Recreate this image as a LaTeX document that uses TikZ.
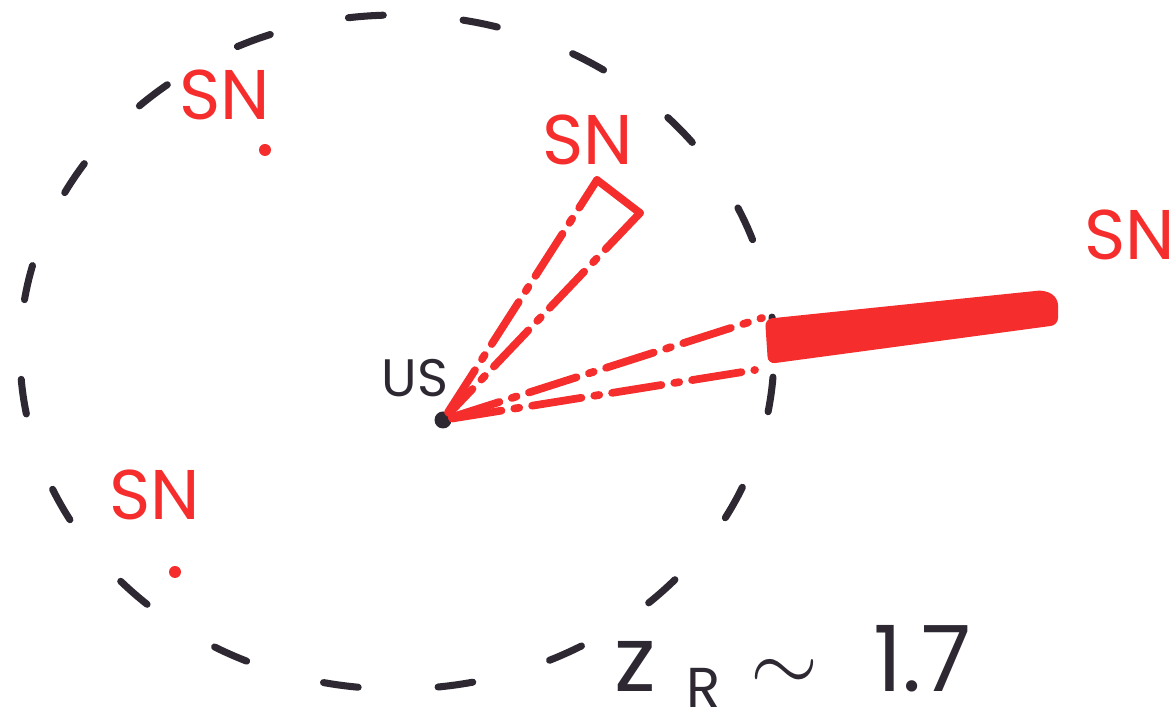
\documentclass[tikz,border=0pt]{standalone}
\usepackage{fontspec}
\setmainfont{Poppins}
\usepackage{tikz}
\usetikzlibrary{positioning, calc}
\definecolor{inkRed}{RGB}{245, 45, 45}
\definecolor{inkDark}{RGB}{45, 40, 50}

\begin{document}
\begin{tikzpicture}[line cap=round,
    ring/.style={draw=inkDark, line width=2pt, dash pattern=on 0.35cm off 0.8cm},
    ray/.style={draw=inkRed, line width=2.2pt, dash pattern=on 0.5cm off 0.13cm on 0.05cm off 0.13cm},
    snlabel/.style={text=inkRed, font=\fontsize{20}{20}\selectfont, inner sep=0pt},
    spot/.style 2 args={circle, fill=#1, inner sep=0pt, minimum size=#2}]
    \useasboundingbox (0,0) rectangle (11.73,7.23);
    % Horizon
    \draw[ring] (3.97,3.71) ellipse [x radius=3.77, y radius=3.37];
    % Observer
    \node[spot={inkDark}{0.17cm}] (us) at (4.43,3.03) {};
    \node[text=inkDark, font=\fontsize{15}{15}\selectfont, inner sep=0pt] (uslbl) at (4.15,3.45) {US};
    % Supernovae
    \node[snlabel] (sn1) at (2.25,6.28) {SN};
    \node[spot={inkRed}{0.12cm}] (sn1dot) at (2.65,5.73) {};
    \node[snlabel] (sn2) at (5.88,5.83) {SN};
    \node[snlabel] (sn3) at (1.55,2.28) {SN};
    \node[spot={inkRed}{0.12cm}] (sn3dot) at (1.75,1.51) {};
    \node[snlabel] (sn4) at (11.3,4.88) {SN};
    % Light cone to the near SN
    \coordinate (apex) at (5.97,5.43);
    \coordinate (apexR) at (6.40,5.10);
    \draw[ray] (us) -- (apex);
    \draw[draw=inkRed, line width=2.2pt] (apex) -- (apexR);
    \draw[ray] (apexR) -- (us);
    % Light cone to the far SN
    \coordinate (edgeU) at (7.62,4.05);
    \coordinate (edgeL) at (7.55,3.53);
    \draw[ray] (us) -- (edgeU);
    \draw[ray] (us) -- (edgeL);
    \fill[inkRed, rounded corners=2pt] (7.65,4.04) -- (10.45,4.33) -- (10.58,4.25) -- (10.58,3.98) -- (7.68,3.59) -- cycle;
    % Redshift
    \node[text=inkDark, font=\fontsize{26}{26}\selectfont, inner sep=0pt, anchor=base west] (zr) at (6.14,0.31)
      {z\hspace{0.3cm}\raisebox{-0.16cm}{\fontsize{16}{16}\selectfont R}\hspace{0.3cm}$\sim$\hspace{0.55cm}1.7};
  \end{tikzpicture}
\end{document}
